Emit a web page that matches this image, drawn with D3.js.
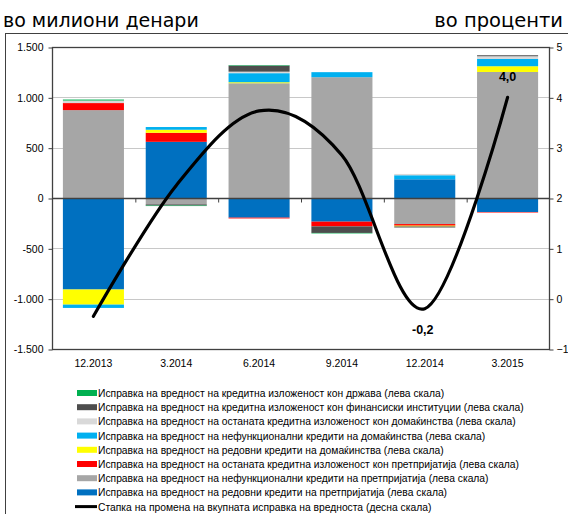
<!DOCTYPE html>
<html>
<head>
<meta charset="utf-8">
<script src="https://cdn.jsdelivr.net/npm/d3@7"></script>
<style>
  html, body { margin: 0; padding: 0; background: #fff; }
  svg { display: block; }
</style>
</head>
<body>
<svg id="chart" width="568" height="514"></svg>
<script>
// ---------- DATA ----------
const categories = ["12.2013", "3.2014", "6.2014", "9.2014", "12.2014", "3.2015"];

// stack order: first key is closest to zero
const regularCorporate   = [-909,  558, -195, -235,  186, -139];
const nplCorporate       = [ 873,  -63, 1140, 1200, -259, 1252];
const otherCorporate     = [  70,   90,   -8,  -47,  -16,   -5];
const regularHouseholds  = [-150,   30,   10,    0,   -8,   57];
const nplHouseholds      = [ -33,   27,   90,   50,   40,   72];
const otherHouseholds    = [  25,    0,   15,    0,   13,   27];
const financialInst      = [   0,  -12,   60,  -65,  -10,   10];
const stateExposure      = [  10,   -5,    5,   -5,    0,    0];

const totalRate = [-0.35, 2.25, 3.73, 2.85, -0.2, 4.0];
const rateLabels = [null, null, null, null, "-0,2", "4,0"];

const leftTicks  = [-1500, -1000, -500, 0, 500, 1000, 1500];
const rightTicks = [-1, 0, 1, 2, 3, 4, 5];

const seriesKeys = ["regularCorporate", "nplCorporate", "otherCorporate", "regularHouseholds",
                    "nplHouseholds", "otherHouseholds", "financialInst", "stateExposure"];
const seriesValues = [regularCorporate, nplCorporate, otherCorporate, regularHouseholds,
                      nplHouseholds, otherHouseholds, financialInst, stateExposure];
const seriesColors = ["#0070C0", "#A6A6A6", "#FF0000", "#FFFF00",
                      "#00B0F0", "#D9D9D9", "#4D4D4D", "#00B050"];
const seriesNames = [
  "Исправка на вредност на редовни кредити на претпријатија (лева скала)",
  "Исправка на вредност на нефункционални кредити на претпријатија (лева скала)",
  "Исправка на вредност на останата кредитна изложеност кон претпријатија (лева скала)",
  "Исправка на вредност на редовни кредити на домаќинства (лева скала)",
  "Исправка на вредност на нефункционални кредити на домаќинства (лева скала)",
  "Исправка на вредност на останата кредитна изложеност кон домаќинства (лева скала)",
  "Исправка на вредност на кредитна изложеност кон финансиски институции (лева скала)",
  "Исправка на вредност на кредитна изложеност кон држава (лева скала)"
];
const lineName = "Стапка на промена на вкупната исправка на вредноста (десна скала)";

// ---------- LAYOUT ----------
const svg = d3.select("#chart");
const L = 52, R = 549, T = 47, B = 349;
const FONT = "'Liberation Sans', Arial, sans-serif";
const TITLEFONT = "'DejaVu Sans', Verdana, sans-serif";

const table = categories.map((c, i) => {
  const row = { category: c };
  seriesKeys.forEach((k, j) => row[k] = seriesValues[j][i]);
  return row;
});

const x = d3.scaleBand().domain(categories).range([L, R]).paddingInner(0.263).paddingOuter(0.1315);
const yL = d3.scaleLinear().domain([-1500, 1500]).range([B, T]);
const yR = d3.scaleLinear().domain([-1, 5]).range([B, T]);
const xi = d3.scaleLinear().domain([0, categories.length]).range([L, R]);

const fmt = d3.formatLocale({ decimal: ",", thousands: ".", grouping: [3], currency: ["", ""], minus: "-" }).format(",d");

// outer frame
svg.append("rect").attr("x", 5.5).attr("y", 33.5).attr("width", 600).attr("height", 600)
  .attr("fill", "none").attr("stroke", "#404040").attr("stroke-width", 1);

// titles
svg.append("text").attr("x", 3).attr("y", 26.5).attr("font-family", TITLEFONT).attr("font-size", 19)
  .attr("fill", "#000").text("во милиони денари");
svg.append("text").attr("x", 563).attr("y", 26.5).attr("text-anchor", "end").attr("font-family", TITLEFONT)
  .attr("font-size", 19.5).attr("fill", "#000").text("во проценти");

// gridlines
svg.append("g").selectAll("line").data(leftTicks.filter(v => v !== 0 && Math.abs(v) !== 1500)).join("line")
  .attr("x1", L).attr("x2", R).attr("y1", d => Math.round(yL(d)) + 0.5).attr("y2", d => Math.round(yL(d)) + 0.5)
  .attr("stroke", "#C8C8C8").attr("stroke-width", 1);

// bars
const stack = d3.stack().keys(seriesKeys).offset(d3.stackOffsetDiverging);
const stacked = stack(table);
svg.append("g").selectAll("g").data(stacked).join("g")
  .attr("fill", (d, i) => seriesColors[i])
  .selectAll("rect").data(d => d).join("rect")
  .attr("x", d => x(d.data.category))
  .attr("width", x.bandwidth())
  .attr("y", d => yL(Math.max(d[0], d[1])))
  .attr("height", d => Math.abs(yL(d[0]) - yL(d[1])));

// zero line + category ticks
svg.append("line").attr("x1", L).attr("x2", R).attr("y1", Math.round(yL(0)) + 0.5).attr("y2", Math.round(yL(0)) + 0.5)
  .attr("stroke", "#404040").attr("stroke-width", 1.3);
const catAxis = svg.append("g").attr("transform", `translate(0.5,${Math.round(yL(0)) + 0.5})`)
  .call(d3.axisBottom(xi).tickValues(d3.range(1, categories.length)).tickSize(4).tickFormat(""));
catAxis.select(".domain").remove();
catAxis.selectAll("line").attr("stroke", "#404040");

// plot frame
svg.append("rect").attr("x", L + 0.5).attr("y", T + 0.5).attr("width", R - L).attr("height", B - T)
  .attr("fill", "none").attr("stroke", "#404040").attr("stroke-width", 1.3);

// left axis
const la = svg.append("g").attr("transform", `translate(${L + 0.5},0.5)`)
  .call(d3.axisLeft(yL).tickValues(leftTicks).tickSize(4).tickPadding(5).tickFormat(fmt));
la.select(".domain").remove();
la.selectAll("line").attr("stroke", "#404040");
la.selectAll("text").attr("font-family", FONT).attr("font-size", 10.5).attr("fill", "#000");

// right axis
const ra = svg.append("g").attr("transform", `translate(${R + 0.5},0.5)`)
  .call(d3.axisRight(yR).tickValues(rightTicks).tickSize(4).tickPadding(3).tickFormat(d3.format("d")));
ra.select(".domain").remove();
ra.selectAll("line").attr("stroke", "#404040");
ra.selectAll("text").attr("font-family", FONT).attr("font-size", 10.5).attr("fill", "#000");

// x labels
const xa = svg.append("g").attr("transform", `translate(0,${B})`)
  .call(d3.axisBottom(x).tickSize(0).tickPadding(11));
xa.select(".domain").remove();
xa.selectAll("text").attr("font-family", FONT).attr("font-size", 10.5).attr("fill", "#000");

// line
const xc = d => x(d) + x.bandwidth() / 2;
const line = d3.line().x((d, i) => xc(categories[i])).y(d => yR(d)).curve(d3.curveCardinal.tension(0));
svg.append("path").datum(totalRate).attr("d", line).attr("fill", "none")
  .attr("stroke", "#000").attr("stroke-width", 3.2).attr("stroke-linecap", "round");

// data labels
const labelOffsets = [0, 0, 0, 0, 25, -16];
svg.append("g").selectAll("text").data(totalRate.map((v, i) => ({ v, i })).filter(d => rateLabels[d.i]))
  .join("text")
  .attr("x", d => xc(categories[d.i]) - (d.i === 4 ? 2 : 0))
  .attr("y", d => yR(d.v) + labelOffsets[d.i])
  .attr("text-anchor", "middle").attr("font-family", FONT).attr("font-weight", "bold").attr("font-size", 12.5)
  .attr("fill", "#000").text(d => rateLabels[d.i]);

// legend
const legendItems = seriesNames.map((n, i) => ({ name: n, color: seriesColors[i], type: "rect" })).reverse();
legendItems.push({ name: lineName, color: "#000", type: "line" });
const lg = svg.append("g").attr("transform", "translate(77,393)");
const rows = lg.selectAll("g").data(legendItems).join("g").attr("transform", (d, i) => `translate(0,${i * 14.2})`);
rows.filter(d => d.type === "rect").append("rect").attr("x", 0).attr("y", -3).attr("width", 20).attr("height", 6)
  .attr("fill", d => d.color);
rows.filter(d => d.type === "line").append("line").attr("x1", -2).attr("x2", 20).attr("y1", 0).attr("y2", 0)
  .attr("stroke", "#000").attr("stroke-width", 3);
rows.append("text").attr("x", 21).attr("y", 4).attr("font-family", FONT).attr("font-size", 10.3)
  .attr("fill", "#000").text(d => d.name);
</script>
</body>
</html>
